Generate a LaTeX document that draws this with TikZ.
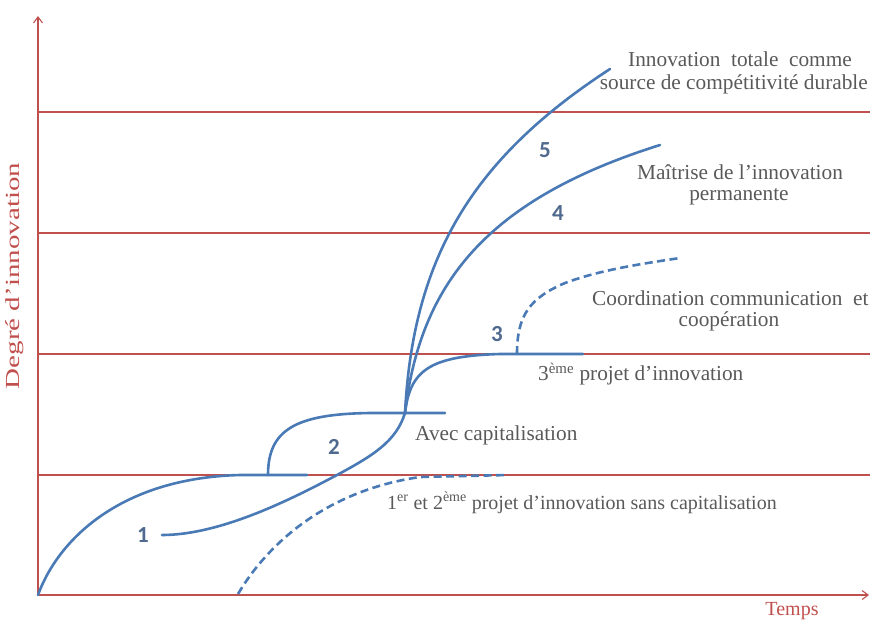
\documentclass[tikz,border=0pt]{standalone}
\usepackage{fontspec}
\setmainfont{Liberation Serif}
\newfontfamily\numfont{Carlito}
\usetikzlibrary{arrows.meta}
\definecolor{axisred}{HTML}{C0504D}
\definecolor{curveblue}{HTML}{4A7AB5}
\definecolor{txtgray}{HTML}{595959}
\definecolor{numblue}{HTML}{4F6A8E}
\tikzset{
  gridline/.style={axisred, line width=1.1pt},
  curve/.style={curveblue, line width=2.6pt, line cap=round},
  dcurve/.style={curveblue, line width=2.6pt, dash pattern=on 8pt off 4.5pt},
  lbl/.style={txtgray, font=\fontsize{21.3}{25}\selectfont, inner sep=0pt},
  lblsmall/.style={txtgray, font=\fontsize{20}{24}\selectfont, inner sep=0pt},
  numlbl/.style={numblue, font=\numfont\bfseries\fontsize{23}{26}\selectfont, inner sep=0pt},
  axlbl/.style={axisred, font=\fontsize{20}{24}\selectfont, inner sep=0pt}
}
\begin{document}
\begin{tikzpicture}[x=1pt, y=-1pt]
\useasboundingbox (0,0) rectangle (870,622);
% axes
\coordinate (O) at (38,595);
\coordinate (Ytop) at (38,16);
\coordinate (Xend) at (869,595);
\draw[gridline, -{Straight Barb[length=6pt,width=9pt]}] (O) -- (Ytop);
\draw[gridline, -{Straight Barb[length=6pt,width=9pt]}] (O) -- (Xend);
% horizontal levels
\foreach \yy in {112,233,354,475} \draw[gridline] (38,\yy) -- (870,\yy);
% key points
\coordinate (J) at (405,413);
\coordinate (P1) at (268,475);
\coordinate (P3) at (517,354);
% curve 1 (first project)
\draw[curve] (O) .. controls (58,540) and (120,478) .. (240,475) -- (307,475);
% curve from label 1 up to junction
\draw[curve] (162,535) .. controls (220,535) and (290,500) .. (337,475)
  .. controls (372,456) and (396,442) .. (J);
% curve 2
\draw[curve] (P1) .. controls (268,430) and (295,414) .. (370,413) -- (445,413);
% 3rd project
\draw[curve] (J) .. controls (410,370) and (430,356) .. (500,354) -- (583,354);
% curve 4
\draw[curve] (J) .. controls (420,285) and (485,200) .. (660,145);
% curve 5
\draw[curve] (J) .. controls (413,260) and (470,160) .. (610,69);
% dashed 3
\draw[dcurve] (P3) .. controls (517,315) and (530,298) .. (565,283)
  .. controls (600,270) and (640,264) .. (680,258);
% dashed without capitalisation
\draw[dcurve] (238,594) .. controls (270,540) and (330,490) .. (420,477) -- (508,475);
% numbers
\node[numlbl] (n1) at (143,535) {1};
\node[numlbl] (n2) at (334,447) {2};
\node[numlbl] (n3) at (497,334) {3};
\node[numlbl] (n4) at (558,213) {4};
\node[numlbl] (n5) at (545,150) {5};
% texts
\node[lbl] (t5a) at (740,59) {Innovation \ totale \ comme};
\node[lbl, anchor=east] (t5b) at (868,84) {source de compétitivité durable};
\node[lbl] (t4a) at (740,172) {Maîtrise de l’innovation};
\node[lbl] (t4b) at (739,197) {permanente};
\node[lbl, anchor=west] (t3a) at (592,298) {Coordination communication \ et};
\node[lbl] (t3b) at (729,321) {coopération};
\node[lbl, anchor=west] (t3c) at (538,374) {3\textsuperscript{ème} projet d’innovation};
\node[lbl, anchor=west] (t2) at (415,435) {Avec capitalisation};
\node[lblsmall, anchor=west] (t1) at (387,503) {1\textsuperscript{er} et 2\textsuperscript{ème} projet d’innovation sans capitalisation};
\node[axlbl] (tx) at (792,611) {Temps};
\node[axlbl, rotate=90] (ty) at (15,276) {\scalebox{1.45}[1]{Degré d’innovation}};
\end{tikzpicture}
\end{document}
